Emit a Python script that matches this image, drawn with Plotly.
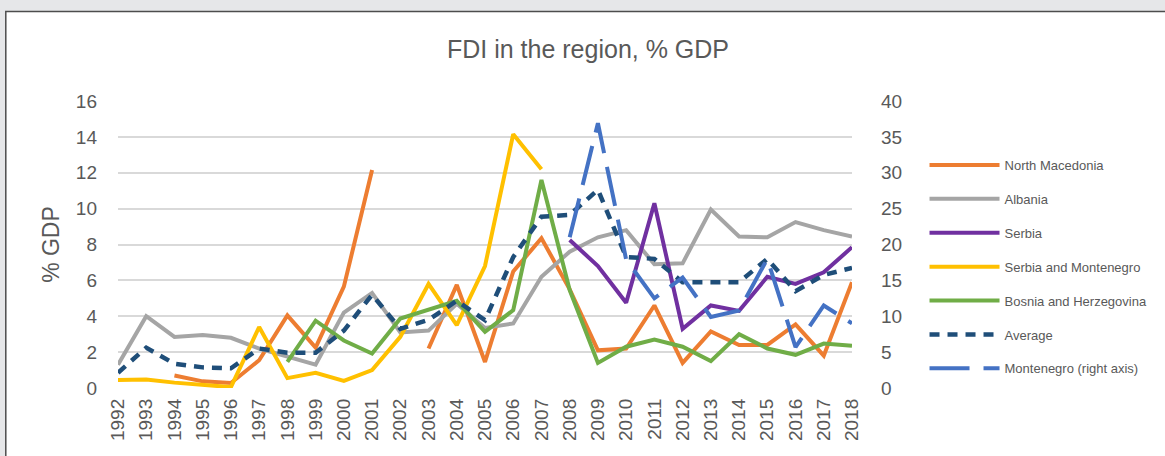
import plotly.graph_objects as go

# --- data ---
years = [str(y) for y in range(1992, 2019)]

north_macedonia = [None, None, 0.7, 0.37, 0.28, 1.55, 4.05, 2.25, 5.65, 12.15,
                   None, 2.2, 5.75, 1.45, 6.5, 8.35, 5.5, 2.1, 2.2, 4.6,
                   1.4, 3.15, 2.4, 2.4, 3.55, 1.8, 5.9]
albania = [1.3, 4.0, 2.85, 2.95, 2.8, 2.2, 1.75, 1.3, 4.2, 5.3,
           3.1, 3.2, 4.7, 3.35, 3.6, 6.2, 7.6, 8.4, 8.8, 6.9,
           6.95, 9.95, 8.45, 8.4, 9.25, 8.8, 8.45]
serbia = [None] * 16 + [8.25, 6.8, 4.75, 10.3, 3.3, 4.6, 4.3, 6.2, 5.8, 6.45, 7.85]
serbia_montenegro = [0.45, 0.47, 0.3, 0.2, 0.05, 3.4, 0.55, 0.85, 0.4, 1.0,
                     2.85, 5.8, 3.5, 6.8, 14.15, 12.2] + [None] * 11
bosnia = [None] * 6 + [1.45, 3.75, 2.65, 1.92, 3.87, 4.34, 4.86, 3.13, 4.34,
                       11.6, 5.46, 1.4, 2.3, 2.7, 2.3, 1.5, 3.0, 2.2, 1.85,
                       2.48, 2.35]
average = [0.85, 2.25, 1.35, 1.15, 1.1, 2.2, 1.97, 1.97, 3.2, 5.2,
           3.3, 3.8, 4.86, 3.78, 7.3, 9.55, 9.65, 11.05, 7.3, 7.2,
           5.9, 5.9, 5.9, 7.2, 5.4, 6.3, 6.7]
montenegro = [None] * 16 + [21.0, 36.9, 17.9, 12.5, 15.4, 9.9, 10.8, 18.0,
                            5.7, 11.5, 9.0]

left_ticks = list(range(0, 17, 2))
right_ticks = list(range(0, 41, 5))

TXT = "#595959"
GRID = "#d9d9d9"
ARIAL = "Liberation Sans, Arial"

series = [
    ("North Macedonia", north_macedonia, "#ed7d31", "solid", "y"),
    ("Albania", albania, "#a5a5a5", "solid", "y"),
    ("Serbia", serbia, "#7030a0", "solid", "y"),
    ("Serbia and Montenegro", serbia_montenegro, "#ffc000", "solid", "y"),
    ("Bosnia and Herzegovina", bosnia, "#70ad47", "solid", "y"),
    ("Average", average, "#1f4e79", "10px,8px", "y"),
    ("Montenegro (right axis)", montenegro, "#4472c4", "40px,14px", "y2"),
]

fig = go.Figure()
for name, vals, color, dash, axis in series:
    fig.add_trace(go.Scatter(
        x=years, y=vals, name=name, yaxis=axis, mode="lines",
        legendgroup=name,
        line=dict(color=color, width=4.5 if name == "Average" else 4, dash=dash),
    ))

# frame of the screenshot: grey band above, white panel with dark edge
L, R, T, B = 118, 298, 101, 68
W, H = 1165, 456
pw, ph = W - L - R, H - T - B


def px(x):
    return (x - L) / pw


def py(y):
    return (H - B - y) / ph


fig.add_shape(type="rect", xref="paper", yref="paper",
              x0=px(3.5), x1=px(1400), y0=py(11.5), y1=py(600),
              fillcolor="white", line=dict(color="#4d4d4d", width=1.5),
              layer="below")

fig.update_layout(
    width=W, height=H,
    margin=dict(l=L, r=R, t=T, b=B),
    paper_bgcolor="#e6e7e9",
    plot_bgcolor="white",
    title=dict(text="FDI in the region, % GDP", x=588 / W, xanchor="center",
               y=1 - 49 / H, yanchor="middle",
               font=dict(family=ARIAL, size=25, color=TXT)),
    xaxis=dict(type="category", tickangle=-90, showgrid=False,
               tickfont=dict(family=ARIAL, size=19, color=TXT),
               ticks="", ticklabelstandoff=6, showline=False),
    yaxis=dict(range=[0, 16], tickvals=left_ticks, gridcolor=GRID,
               gridwidth=1.5, zeroline=False,
               tickfont=dict(family=ARIAL, size=19, color=TXT),
               ticklabelstandoff=20,
               title=dict(text="% GDP", standoff=9,
                          font=dict(family=ARIAL, size=23, color=TXT))),
    yaxis2=dict(range=[0, 40], tickvals=right_ticks, overlaying="y",
                side="right", showgrid=False, zeroline=False,
                tickfont=dict(family=ARIAL, size=19, color=TXT),
                ticklabelstandoff=28),
    legend=dict(x=px(941), y=py(150), xanchor="left", yanchor="top",
                bgcolor="rgba(0,0,0,0)", itemwidth=70, tracegroupgap=14,
                font=dict(family=ARIAL, size=13, color=TXT)),
    showlegend=True,
)

fig.write_html("out.html", config={"displayModeBar": False},
               post_script="document.body.style.margin='0';")
